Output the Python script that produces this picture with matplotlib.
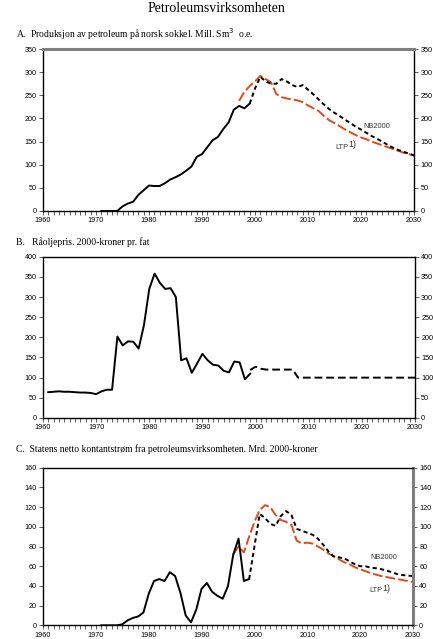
import matplotlib
matplotlib.use("Agg")
import matplotlib.pyplot as plt
from matplotlib.ticker import MultipleLocator

# ---- data ----
# A. production, mill. Sm3 o.e.
a_hist_years = list(range(1971, 2000))
a_hist = [0, 0, 0, 0, 10, 16, 20, 35, 45, 55, 54, 54, 60, 68, 73, 79, 87, 96,
          117, 123, 138, 153, 160, 177, 191, 219, 227, 222, 232]
a_nb_years = list(range(1999, 2031))
a_nb = [232, 265, 290, 280, 275, 275, 285, 280, 272, 268, 272, 262, 252, 241,
        230, 220, 212, 205, 197, 190, 182, 176, 169, 162, 156, 150, 143, 137,
        132, 128, 124, 120]
a_ltp_years = list(range(1997, 2031))
a_ltp = [238, 258, 270, 280, 292, 285, 278, 253, 246, 243, 241, 239, 235, 228,
         222, 216, 205, 196, 190, 183, 176, 170, 164, 159, 155, 150, 146, 142,
         138, 134, 130, 126, 123, 120]

# B. crude oil price, 2000-kroner per barrel
b_hist_years = list(range(1961, 2000))
b_hist = [64, 65, 66, 65, 65, 64, 63, 63, 62, 59, 66, 70, 70, 202, 180, 190, 189,
          172, 230, 320, 358, 335, 320, 322, 300, 143, 148, 112, 135, 159, 143,
          132, 130, 117, 113, 140, 138, 96, 110]
b_nb_years = list(range(1999, 2031))
b_nb = [119, 127, 122, 120, 120, 120, 120, 120, 120, 100, 100, 100, 100, 100,
        100, 100, 100, 100, 100, 100, 100, 100, 100, 100, 100, 100, 100, 100,
        100, 100, 100, 100]

# C. state's net cash flow, bn 2000-kroner
c_hist_years = list(range(1971, 2000))
c_hist = [0, 0, 0, 0, 1, 5, 7.5, 9, 13, 32, 45, 47, 45, 54, 50, 33, 10, 3, 16,
          37, 43, 34, 30, 27, 40, 72, 88, 45, 47]
c_nb_years = list(range(1999, 2031))
c_nb = [47, 80, 113, 109, 103, 101, 111, 116, 112, 98, 96, 94, 92, 88, 82, 75,
        70, 69, 68, 65, 62, 60, 60, 58.5, 58, 57, 55.5, 54, 52, 51, 50.5, 50]
c_ltp_years = list(range(1996, 2031))
c_ltp = [72, 80, 74, 90, 105, 117, 122, 120, 112, 107, 105, 102, 86, 83, 84, 83,
         80, 77, 73, 70, 67, 64, 62, 59, 57, 55, 53, 51.5, 50, 49, 48, 47, 46, 45,
         44]

RED = '#dc4a1e'
LW = 1.4
sans = ['Liberation Sans', 'DejaVu Sans']
serif = ['Liberation Serif', 'DejaVu Serif']
plt.rcParams['font.family'] = sans
plt.rcParams['mathtext.fontset'] = 'dejavusans'

fig = plt.figure(figsize=(4.33, 6.39), dpi=100)

def setup(ax, ymax, ystep, gray=None):
    ax.set_xlim(1960, 2030)
    ax.set_ylim(0, ymax)
    ax.xaxis.set_major_locator(MultipleLocator(10))
    ax.xaxis.set_minor_locator(MultipleLocator(1))
    ax.yaxis.set_major_locator(MultipleLocator(ystep))
    ax.tick_params(axis='x', which='both', direction='out', length=3,
                   width=0.6, labelsize=5.2, pad=1.5, color='#444444')
    ax.tick_params(axis='y', which='both', direction='out', length=3,
                   width=0.6, labelsize=5.2, pad=1.5, left=True, right=True,
                   labelleft=True, labelright=True, color='#444444')
    for s in ax.spines.values():
        s.set_linewidth(1.0)
        s.set_color('black')
    if gray:
        ax.spines[gray].set_color('#7f7f7f')
        ax.spines[gray].set_linewidth(2.2)

# panel A
axA = fig.add_axes([0.0993, 0.6698, 0.857, 0.2535])
setup(axA, 350, 50, gray='top')
axA.plot(a_ltp_years, a_ltp, color=RED, lw=LW, dashes=(5, 1.6))
axA.plot(a_nb_years, a_nb, color='black', lw=LW, dashes=(2.2, 1.6))
axA.plot(a_hist_years, a_hist, color='black', lw=LW, solid_joinstyle='round')
axA.text(2020.4, 182, 'NB2000', fontsize=5.3, color='#333333', va='center')
axA.text(2015.2, 138, 'LTP', fontsize=5.3, color='#333333', va='center')
axA.text(2017.5, 143, '1)', fontsize=6.3, color='#333333', va='center')

# panel B
axB = fig.add_axes([0.0993, 0.3459, 0.859, 0.2524])
setup(axB, 400, 50)
axB.plot(b_nb_years, b_nb, color='black', lw=LW, dashes=(4, 2))
axB.plot(b_hist_years, b_hist, color='black', lw=LW, solid_joinstyle='round')

# panel C
axC = fig.add_axes([0.0993, 0.0214, 0.8545, 0.2466])
setup(axC, 160, 20, gray='right')
axC.plot(c_ltp_years, c_ltp, color=RED, lw=LW, dashes=(5, 1.6))
axC.plot(c_nb_years, c_nb, color='black', lw=LW, dashes=(2.2, 1.6))
axC.plot(c_hist_years, c_hist, color='black', lw=LW, solid_joinstyle='round')
axC.text(2022.0, 69, 'NB2000', fontsize=5.3, color='#333333', va='center')
axC.text(2021.8, 35, 'LTP', fontsize=5.3, color='#333333', va='center')
axC.text(2024.1, 37.5, '1)', fontsize=6.3, color='#333333', va='center')

# titles
fig.text(0.5, 1 - 9 / 639, 'Petroleumsvirksomheten', ha='center', va='center',
         fontsize=10, family=serif)
fig.text(16 / 433, 1 - 34 / 639,
         'A.  Produksjon av petroleum på norsk sokkel. Mill. Sm$^3$  o.e.',
         ha='left', va='center', fontsize=6.9, family=serif)
fig.text(16 / 433, 1 - 242 / 639, 'B.   Råoljepris. 2000-kroner pr. fat',
         ha='left', va='center', fontsize=6.9, family=serif)
fig.text(16 / 433, 1 - 449 / 639,
         'C.  Statens netto kontantstrøm fra petroleumsvirksomheten. Mrd. 2000-kroner',
         ha='left', va='center', fontsize=6.9, family=serif)

fig.savefig('out.png', dpi=100)
